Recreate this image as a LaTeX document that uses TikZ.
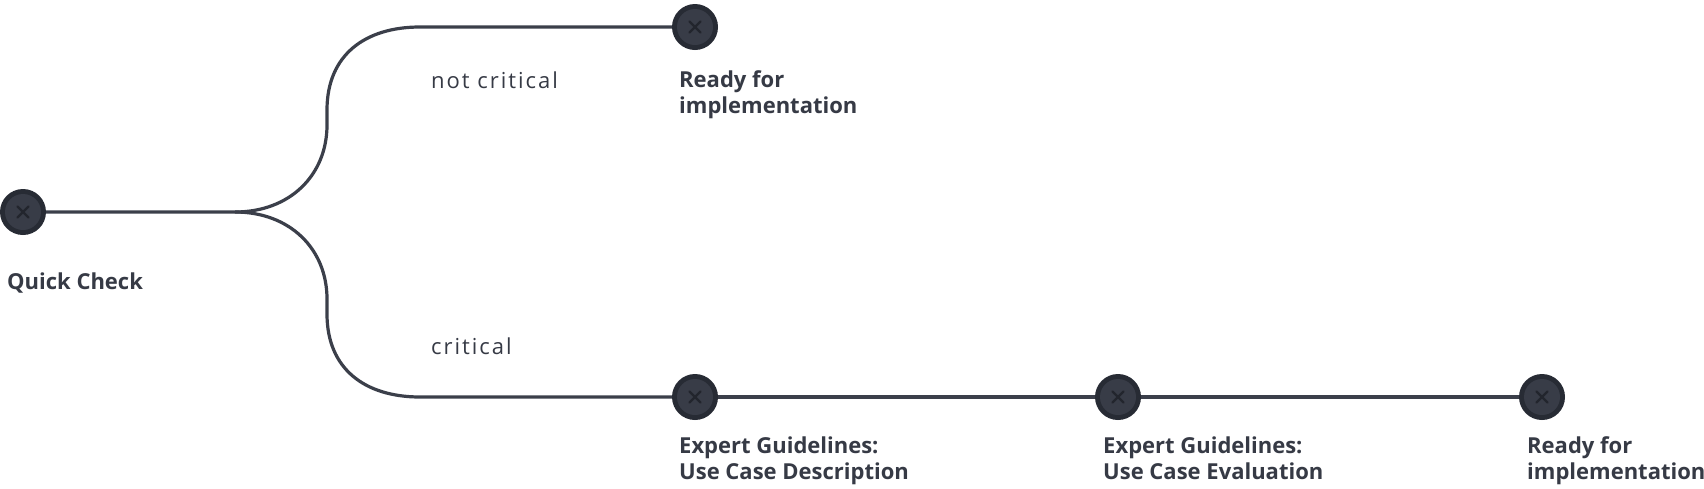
\documentclass[tikz,border=0pt]{standalone}
\usepackage{fontspec}
\setmainfont{Open Sans}
\newfontfamily\lblfont{Open Sans}[LetterSpace=9]
\definecolor{txtcol}{HTML}{363A45}
\definecolor{ringcol}{HTML}{272B34}
\definecolor{innercol}{HTML}{383C47}
\definecolor{crosscol}{HTML}{22252D}
\definecolor{linecol}{HTML}{3B3F4A}
\pgfdeclarelayer{backdrop}
\pgfdeclarelayer{bg}
\pgfsetlayers{backdrop,bg,main}
\tikzset{
  stepnode/.style={circle, fill=ringcol, minimum size=46pt, inner sep=0pt,
    path picture={
      \fill[innercol] (path picture bounding box.center) circle (18pt);
      \draw[crosscol, line width=2.4pt, line cap=round]
        ([shift={(-5.5pt,-5.5pt)}]path picture bounding box.center) -- ([shift={(5.5pt,5.5pt)}]path picture bounding box.center)
        ([shift={(-5.5pt,5.5pt)}]path picture bounding box.center) -- ([shift={(5.5pt,-5.5pt)}]path picture bounding box.center);
    }},
  title/.style={anchor=base west, inner sep=0pt, text=txtcol, font=\fontsize{22}{26.5}\selectfont\bfseries},
  branch/.style={anchor=base west, inner sep=0pt, text=txtcol, font=\fontsize{22}{26.5}\selectfont\lblfont},
  conn/.style={draw=linecol, line width=3.2pt}
}
\begin{document}
\begin{tikzpicture}[x=1pt,y=-1pt]
\begin{pgfonlayer}{backdrop}
\fill[white] (0,0) rectangle (1704,488);
\end{pgfonlayer}
\useasboundingbox (0,0) rectangle (1704,488);
% nodes
\node[stepnode] (qc) at (23,212) {};
\node[stepnode] (nr1) at (695,27) {};
\node[stepnode] (eg1) at (695,397) {};
\node[stepnode] (eg2) at (1118,397) {};
\node[stepnode] (nr2) at (1542,397) {};
\coordinate (fork) at (235,212);
% connectors
\begin{pgfonlayer}{bg}
\draw[conn] (qc.east) -- (fork)
  .. controls (290,212) and (327,175) .. (327,125) -- (327,110)
  .. controls (327,55) and (365,27) .. (420,27) -- (nr1.west);
\draw[conn] (fork)
  .. controls (290,212) and (327,249) .. (327,299) -- (327,314)
  .. controls (327,369) and (365,397) .. (420,397) -- (eg1.west);
\draw[conn] (eg1.east) -- (eg2.west);
\draw[conn] (eg2.east) -- (nr2.west);
\end{pgfonlayer}
% labels
\node[title] (lqc) at (7,289) {Quick Check};
\node[title] (lnr1) at (679,87) {\begin{tabular}[t]{@{}l@{}}Ready for\\implementation\end{tabular}};
\node[title] (leg1) at (679,453) {\begin{tabular}[t]{@{}l@{}}Expert Guidelines:\\Use Case Description\end{tabular}};
\node[title] (leg2) at (1103,453) {\begin{tabular}[t]{@{}l@{}}Expert Guidelines:\\Use Case Evaluation\end{tabular}};
\node[title] (lnr2) at (1527,453) {\begin{tabular}[t]{@{}l@{}}Ready for\\implementation\end{tabular}};
\node[branch] (lnc) at (431,88) {not critical};
\node[branch] (lc) at (431,354) {critical};
\end{tikzpicture}
\end{document}
